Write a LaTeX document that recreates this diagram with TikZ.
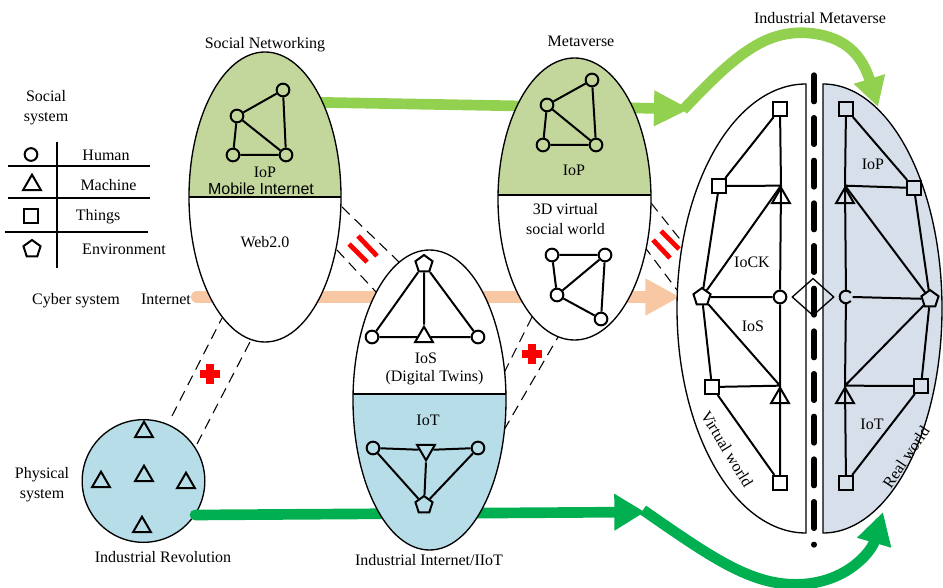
\documentclass[tikz,border=0pt]{standalone}
\usepackage{fontspec}
\setmainfont{Liberation Serif}
\newfontfamily\arialfont{Liberation Sans}
\usetikzlibrary{shapes.geometric,arrows.meta,calc}
\definecolor{leafgreen}{HTML}{C3D69B}
\definecolor{paleblue}{HTML}{B7DEE8}
\definecolor{greyblue}{HTML}{D6DFEA}
\definecolor{limegreen}{HTML}{92D050}
\definecolor{deepgreen}{HTML}{00B050}
\definecolor{peach}{HTML}{F8C8A4}
\begin{document}
\begin{tikzpicture}[x=0.75pt,y=-0.75pt,
  font=\fontsize{12}{15}\selectfont,
  txt/.style={inner sep=0pt, align=center},
  lnk/.style={line width=1.5pt},
  hum/.style={circle, draw, line width=1.5pt, minimum size=9.5pt, inner sep=0pt},
  mach/.style={regular polygon, regular polygon sides=3, draw, line width=1.5pt, minimum size=15.5pt, inner sep=0pt},
  machdown/.style={mach, shape border rotate=180},
  thing/.style={rectangle, draw, line width=1.5pt, minimum size=10.5pt, inner sep=0pt},
  env/.style={regular polygon, regular polygon sides=5, draw, line width=1.5pt, minimum size=13.5pt, inner sep=0pt},
  ell/.style={ellipse, draw, line width=1pt, fill=white, inner sep=0pt},
  band/.style={line width=0.8pt, dash pattern=on 8pt off 5pt},
  redbar/.style={red, line width=3.6pt},
  legrule/.style={line width=1pt},
  flow/.style={line width=8pt},
]
\useasboundingbox (0,0) rectangle (943,588);

% ---------------- legend ----------------
\node[txt] (socsys) at (46,107.5) {Social\\system};
\draw[legrule] (57,142) -- (57,268);
\draw[legrule] (8,166) -- (150,166);
\draw[legrule] (8,198) -- (150,198);
\draw[legrule] (5,232) -- (148,232);
\node[hum]   (kh) at (31,154.5) {};
\node[mach]  (km) at (32,185) {};
\node[thing] (kt) at (31,216.5) {};
\node[env]   (ke) at (32,249) {};
\node[txt] (khl) at (106,155) {Human};
\node[txt] (kml) at (108.5,185) {Machine};
\node[txt] (ktl) at (98,217) {Things};
\node[txt] (kel) at (124,249) {Environment};

\node[txt] (physsys) at (42,485) {Physical\\system};
\node[txt] (cybsys) at (76,301) {Cyber system};

% ---------------- physical system ----------------
\node[circle, draw, line width=1pt, fill=paleblue, minimum size=92pt, inner sep=0pt] (phys) at (143.5,481) {};
\node[mach] (p1) at (144,432) {};
\node[mach] (p2) at (101,482) {};
\node[mach] (p3) at (144,476) {};
\node[mach] (p4) at (186,483) {};
\node[mach] (p5) at (142,527) {};
\node[txt] (indrev) at (163,557) {Industrial Revolution};

% ---------------- flows running behind the ellipses ----------------
\coordinate (inetS) at (197,297);
\coordinate (inetE) at (680,297);
\draw[line width=9pt, peach, line cap=round, -{Triangle[length=26pt,width=26pt]}] (inetS) -- (inetE);
\node[txt] (inetl) at (166,299) {Internet};
\coordinate (lgS) at (300,102);
\coordinate (lgE) at (690,109);
\draw[flow, limegreen, -{Triangle[length=27pt,width=25pt]}] (lgS) -- (lgE);
\coordinate (dgS) at (195,515);
\coordinate (dgE) at (645,512);
\draw[flow, deepgreen, line cap=round, -{Triangle[length=23pt,width=26pt]}] (dgS) -- (dgE);

% ---------------- dashed bands ----------------
\draw[band] (172,416) -- (222,318);
\draw[band] (197,444) -- (251,340);
\draw[band] (342,207) -- (399,262);
\draw[band] (337,250) -- (377,293);
\draw[band] (504,373) -- (533,315);
\draw[band] (504,430) -- (558,337);
\draw[band] (651,203) -- (683,243);
\draw[band] (644,246) -- (677,290);

% ---------------- social networking ----------------
\node[txt] (snl) at (265,44.5) {Social Networking};
\node[ell, minimum width=114pt, minimum height=217.5pt,
  path picture={\fill[leafgreen] (path picture bounding box.north west) rectangle (path picture bounding box.east);
    \draw[line width=1pt] (path picture bounding box.west) -- (path picture bounding box.east);}] (sn) at (265,197) {};
\node[hum] (s1) at (283,90) {};
\node[hum] (s2) at (237,116) {};
\node[hum] (s3) at (233,155) {};
\node[hum] (s4) at (286,155) {};
\draw[lnk] (s1) -- (s2) (s1) -- (s4) (s2) -- (s3) (s2) -- (s4) (s3) -- (s4);
\node[txt] (snIoP) at (265,172.5) {IoP};
\node[txt, font=\arialfont\fontsize{12}{14}\selectfont] (snmob) at (261,189) {Mobile Internet};
\node[txt] (snweb) at (265,242) {Web2.0};

% ---------------- industrial internet ----------------
\node[ell, minimum width=114.75pt, minimum height=225pt,
  path picture={\fill[paleblue] ([yshift=4.5pt]path picture bounding box.west) rectangle (path picture bounding box.south east);
    \draw[line width=1pt] ([yshift=4.5pt]path picture bounding box.west) -- ([yshift=4.5pt]path picture bounding box.east);}] (iiot) at (429.5,400) {};
\node[env]  (t1) at (424,264) {};
\node[hum]  (t2) at (372,337) {};
\node[mach] (t3) at (424,337) {};
\node[hum]  (t4) at (478,337) {};
\draw[lnk] (t1) -- (t2) (t1) -- (t4) (t1) -- (t3.corner 1) (t2) -- (t3) (t3) -- (t4);
\node[txt] (iosl) at (426,358) {IoS};
\node[txt] (dtl) at (434.5,378) {(Digital Twins)};
\node[txt] (iotl) at (428,420) {IoT};
\node[hum]      (b1) at (373,448) {};
\node[machdown] (b2) at (426,450) {};
\node[hum]      (b3) at (478,448) {};
\node[env]      (b4) at (424,505) {};
\draw[lnk] (b1) -- (b2) (b2) -- (b3) (b1) -- (b4) (b3) -- (b4) (b2.corner 1) -- (b4);
\node[txt] (iiotl) at (429,560) {Industrial Internet/IIoT};

% ---------------- metaverse ----------------
\node[txt] (metal) at (581,41) {Metaverse};
\node[ell, minimum width=114.75pt, minimum height=211.5pt,
  path picture={\fill[leafgreen] (path picture bounding box.north west) rectangle ([yshift=3pt]path picture bounding box.east);
    \draw[line width=1pt] ([yshift=3pt]path picture bounding box.west) -- ([yshift=3pt]path picture bounding box.east);}] (meta) at (574.5,199) {};
\node[hum] (m1) at (592,80) {};
\node[hum] (m2) at (547,105) {};
\node[hum] (m3) at (543,145) {};
\node[hum] (m4) at (596,145) {};
\draw[lnk] (m1) -- (m2) (m1) -- (m4) (m2) -- (m3) (m2) -- (m4) (m3) -- (m4);
\node[txt] (metaIoP) at (574,170) {IoP};
\node[txt] (v3d) at (565.5,219.5) {3D virtual\\social world};
\node[hum] (w1) at (552,255) {};
\node[hum] (w2) at (605,255) {};
\node[hum] (w3) at (557,295) {};
\node[hum] (w4) at (601,319) {};
\draw[lnk] (w1) -- (w2) (w1) -- (w3) (w2) -- (w3) (w2) -- (w4) (w3) -- (w4);

% ---------------- red marks on the bands ----------------
\draw[redbar] (349,244) -- (367,262);
\draw[redbar] (358,236) -- (377,256);
\draw[redbar] (653,240) -- (670,258);
\draw[redbar] (661,231) -- (679,249);
\begin{scope}[shift={(210,374)}]
  \fill[red] (-10,-4) rectangle (10,4);
  \fill[red] (-4,-10) rectangle (4,10);
\end{scope}
\begin{scope}[shift={(532,354)}]
  \fill[red] (-10,-4) rectangle (10,4);
  \fill[red] (-4,-10) rectangle (4,10);
\end{scope}

% ---------------- industrial metaverse ----------------
\node[txt] (indmeta) at (820,18) {Industrial Metaverse};
\draw[line width=1pt, fill=white] (806,84) arc[start angle=-90, end angle=-270, x radius=129, y radius=224.5] -- cycle;
\draw[line width=1pt, fill=greyblue] (823,84) arc[start angle=-90, end angle=90, x radius=119, y radius=224.5] -- cycle;
\draw[line width=4pt, line cap=round, dash pattern=on 20pt off 12pt] (814,75) -- (814,545);
\node[diamond, draw, line width=1pt, minimum width=31.5pt, minimum height=28pt, inner sep=0pt] (link) at (813,297) {};

% virtual side
\node[thing] (L1) at (780,109) {};
\node[thing] (L2) at (719,186) {};
\node[mach]  (L3) at (781,198) {};
\node[env]   (L4) at (702,297) {};
\node[hum]   (L5) at (780,297) {};
\node[thing] (L6) at (712,387) {};
\node[mach]  (L7) at (780,398) {};
\node[thing] (L8) at (780,483) {};
\draw[lnk] (L1) -- (L2) (L1) -- (L3.corner 1) (L2) -- (L3.corner 1) (L2) -- (L4)
  (L3.corner 1) -- (L4) (L3.corner 1) -- (L5) (L4) -- (L5) (L4) -- (L6)
  (L4) -- (L7.corner 1) (L5) -- (L7.corner 1) (L6) -- (L7.corner 1) (L6) -- (L8)
  (L7.corner 1) -- (L8);
\node[txt] (iock) at (752,262) {IoCK};
\node[txt] (iosv) at (753,326) {IoS};
\node[txt, rotate=-59] (virt) at (727,449) {Virtual world};

% real side (the middle human is drawn open on its right)
\node[thing] (R1) at (846,109) {};
\node[thing] (R2) at (914,188) {};
\node[mach]  (R3) at (845,198) {};
\node[env]   (R4) at (930,299) {};
\node[circle, minimum size=9.5pt, inner sep=0pt] (R5) at (846,297) {};
\draw[lnk] ([shift={(40:4.75pt)}]R5.center) arc[start angle=40, end angle=320, radius=4.75pt];
\node[thing] (R6) at (921,386) {};
\node[mach]  (R7) at (845,398) {};
\node[thing] (R8) at (846,483) {};
\draw[lnk] (R1) -- (R2) (R1) -- (R3.corner 1) (R2) -- (R3.corner 1) (R2) -- (R4)
  (R3.corner 1) -- (R4) (R3.corner 1) -- (R5) (R4) -- (R5.east) (R4) -- (R6)
  (R4) -- (R7.corner 1) (R5) -- (R7.corner 1) (R6) -- (R7.corner 1) (R6) -- (R8)
  (R7.corner 1) -- (R8);
\node[txt] (iopr) at (873,164) {IoP};
\node[txt] (iotr) at (872,424) {IoT};
\node[txt, rotate=56] (realw) at (906,457) {Real world};

% ---------------- curved flows into the industrial metaverse ----------------
\coordinate (lcS) at (683,110);
\coordinate (lcE) at (878,107);
\draw[flow, limegreen, -{Triangle[length=22pt,width=23pt]}]
  (lcS) .. controls (735,55) and (765,30) .. (808,33) .. controls (845,36) and (862,55) .. (lcE);
\coordinate (dcS) at (643,510);
\coordinate (dcE) at (883,512);
\draw[flow, deepgreen, -{Triangle[length=24pt,width=25pt]}]
  (dcS) .. controls (715,560) and (755,588) .. (805,584) .. controls (850,580) and (872,550) .. (dcE);
\end{tikzpicture}
\end{document}
